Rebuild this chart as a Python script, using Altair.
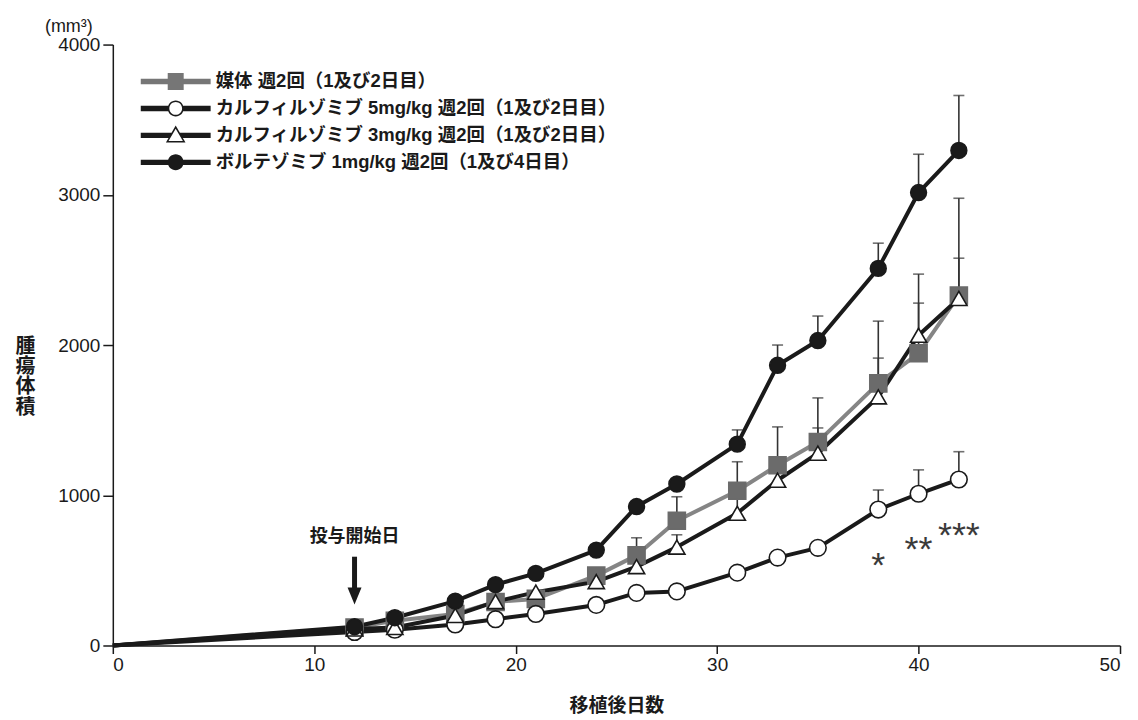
import altair as alt
import pandas as pd

# ---------------- data ----------------
days = [0, 12, 14, 17, 19, 21, 24, 26, 28, 31, 33, 35, 38, 40, 42]

labels = [
    "媒体 週2回（1及び2日目）",
    "カルフィルゾミブ 5mg/kg 週2回（1及び2日目）",
    "カルフィルゾミブ 3mg/kg 週2回（1及び2日目）",
    "ボルテゾミブ 1mg/kg 週2回（1及び4日目）",
]

vehicle = [0, 120, 165, 210, 290, 310, 465, 600, 830, 1030, 1200, 1355, 1745, 1945, 2330]
vehicle_se = [0, 0, 0, 0, 0, 0, 0, 117, 160, 193, 255, 293, 414, 527, 647]
carf5 = [0, 90, 105, 140, 175, 210, 270, 350, 360, 485, 585, 650, 905, 1010, 1105]
carf5_se = [0, 0, 0, 0, 0, 0, 0, 0, 0, 0, 0, 0, 130, 159, 185]
carf3 = [0, 110, 120, 200, 292, 355, 425, 525, 655, 880, 1100, 1280, 1655, 2065, 2310]
carf3_se = [0, 0, 0, 0, 0, 0, 0, 0, 82, 117, 149, 168, 258, 214, 268]
bort = [0, 125, 185, 295, 405, 480, 635, 925, 1075, 1340, 1865, 2030, 2510, 3015, 3295]
bort_se = [0, 0, 0, 0, 0, 0, 0, 0, 0, 95, 135, 163, 168, 255, 366]

x_ticks = [0, 10, 20, 30, 40, 50]
y_ticks = [0, 1000, 2000, 3000, 4000]

# annotations
start_label = ["投与開始日"]
start_day = [12]
start_label_y = [724]
arrow_top = [591]
arrow_bottom = [372]
arrow_head_y = [330]

star_text = ["*", "**", "***"]
star_day = [38, 40, 42]
star_y = [455, 561, 655]

# ---------------- styling ----------------
line_colors = ["#858585", "#1a1a1a", "#1a1a1a", "#1a1a1a"]
point_shapes = ["square", "circle", "triangle-up", "circle"]
point_fill = ["#6b6b6b", "#ffffff", "#ffffff", "#1a1a1a"]
point_stroke = ["#6b6b6b", "#1a1a1a", "#1a1a1a", "#1a1a1a"]
point_size = [290, 250, 330, 250]

bar = "M-3.5,-0.27H3.5V0.27H-3.5Z"
legend_paths = [
    # gray bar + square
    bar + " M-0.8,-0.85H0.8V0.85H-0.8Z",
    # bars + ring (hole by opposite winding)
    "M-3.5,-0.27H-0.75V0.27H-3.5Z M0.75,-0.27H3.5V0.27H0.75Z "
    "M-0.8,0A0.8,0.8 0 1,1 0.8,0A0.8,0.8 0 1,1 -0.8,0Z "
    "M-0.64,0A0.64,0.64 0 1,0 0.64,0A0.64,0.64 0 1,0 -0.64,0Z",
    # bars + open triangle
    "M-3.5,-0.27L-0.33,-0.27L-0.62,0.27L-3.5,0.27Z M0.33,-0.27L3.5,-0.27L3.5,0.27L0.62,0.27Z "
    "M0,-0.98L0.98,0.72L-0.98,0.72Z M0,-0.66L-0.72,0.57L0.72,0.57Z",
    # bar + filled circle
    bar + " M-0.8,0A0.8,0.8 0 1,1 0.8,0A0.8,0.8 0 1,1 -0.8,0Z",
]
legend_fill = ["#767676", "#1a1a1a", "#1a1a1a", "#1a1a1a"]

FONT = "Liberation Sans, Noto Sans CJK JP, sans-serif"

# ---------------- table ----------------
rows = []
for lab, vals, ses in zip(labels, [vehicle, carf5, carf3, bort],
                          [vehicle_se, carf5_se, carf3_se, bort_se]):
    for d, v, s in zip(days, vals, ses):
        rows.append({"series": lab, "day": d, "value": v, "se": s, "upper": v + s})
df = pd.DataFrame(rows)

xs = alt.Scale(domain=[0, 50], nice=False, zero=False)
ys = alt.Scale(domain=[0, 4000], nice=False)

X = alt.X("day:Q", scale=xs, axis=alt.Axis(
    values=x_ticks, format="d", title="移植後日数", labelPadding=2, titlePadding=22,
    tickSize=8, titleFontSize=19, titleFontWeight="bold"))
Y = alt.Y("value:Q", scale=ys, axis=alt.Axis(
    values=y_ticks, format="d", title=["腫", "瘍", "体", "積"], titleAngle=0,
    titleAlign="center", titleBaseline="middle", titleX=-88, titleY=302,
    titleLineHeight=20.5, titleFontSize=20, titleFontWeight="bold",
    tickSize=10, labelPadding=3))

base = alt.Chart(df)

lines = base.mark_line(strokeWidth=4, strokeJoin="round").encode(
    x=X, y=Y,
    color=alt.Color("series:N", scale=alt.Scale(domain=labels, range=line_colors), legend=None),
    order="day:Q",
)

err = base.transform_filter("datum.se > 0")
err_rules = err.mark_rule(color="#333333", strokeWidth=1.6).encode(
    x="day:Q", y="value:Q", y2="upper:Q")
err_caps = err.mark_tick(color="#333333", orient="horizontal", size=11, thickness=1.6).encode(
    x="day:Q", y="upper:Q")

points = base.transform_filter("datum.day > 0").mark_point(
    filled=False, strokeWidth=1.6, opacity=1).encode(
    x="day:Q", y="value:Q",
    shape=alt.Shape("series:N", scale=alt.Scale(domain=labels, range=point_shapes), legend=None),
    fill=alt.Fill("series:N", scale=alt.Scale(domain=labels, range=point_fill), legend=None),
    stroke=alt.Stroke("series:N", scale=alt.Scale(domain=labels, range=point_stroke), legend=None),
    size=alt.Size("series:N", scale=alt.Scale(domain=labels, range=point_size), legend=None),
)

leg_props = dict(title=None, orient="none", legendX=53, legendY=27, padding=0,
                 labelFontSize=18.5, labelFont=FONT, labelFontWeight="bold",
                 labelColor="#1a1a1a", labelOffset=30, rowPadding=7,
                 symbolSize=400, symbolStrokeWidth=0, labelLimit=0)
legend_layer = base.transform_filter("false").mark_point(
    filled=True, size=400, strokeWidth=0, opacity=1).encode(
    x="day:Q", y="value:Q",
    shape=alt.Shape("series:N", scale=alt.Scale(domain=labels, range=legend_paths),
                    legend=alt.Legend(**leg_props)),
    fill=alt.Fill("series:N", scale=alt.Scale(domain=labels, range=legend_fill),
                  legend=alt.Legend(**leg_props)),
)

ann = pd.DataFrame({"label": start_label, "day": start_day, "ty": start_label_y,
                    "a0": arrow_top, "a1": arrow_bottom, "ah": arrow_head_y})
ann_text = alt.Chart(ann).mark_text(font=FONT, fontSize=18, fontWeight="bold",
                                    color="#1a1a1a", baseline="middle").encode(
    x="day:Q", y="ty:Q", text="label:N")
arrow_shaft = alt.Chart(ann).mark_rule(color="#1a1a1a", strokeWidth=5).encode(
    x="day:Q", y="a0:Q", y2="a1:Q")
arrow_head = alt.Chart(ann).mark_point(
    shape="M-0.7,-0.85L0.7,-0.85L0,0.85Z", size=400, filled=True,
    color="#1a1a1a", opacity=1).encode(x="day:Q", y="ah:Q")

stars = pd.DataFrame({"t": star_text, "day": star_day, "y": star_y})
star_marks = alt.Chart(stars).mark_text(font="Liberation Sans", fontSize=36,
                                        color="#3a3a3a", baseline="alphabetic").encode(
    x="day:Q", y="y:Q", text="t:N")

chart = alt.layer(
    lines, err_rules, err_caps, points, legend_layer,
    ann_text, arrow_shaft, arrow_head, star_marks,
).resolve_scale(
    color="independent", shape="independent", fill="independent",
    stroke="independent", size="independent",
).properties(
    width=1009, height=602,
    title=alt.TitleParams("(mm³)", anchor="start", frame="group", dx=-68, offset=0,
                          fontSize=18, fontWeight="normal", font=FONT, color="#1a1a1a"),
    autosize=alt.AutoSizeParams(type="none"),
    padding={"left": 105, "top": 36, "right": 10, "bottom": 70},
).configure_view(stroke=None).configure_axis(
    grid=False, domainColor="#1a1a1a", domainWidth=1.5, tickColor="#1a1a1a",
    tickWidth=1.5, labelFontSize=19, labelFont=FONT,
    labelColor="#1a1a1a", titleFont=FONT, titleColor="#1a1a1a",
)

chart.save("out.html", embed_options={"renderer": "svg", "actions": False})
